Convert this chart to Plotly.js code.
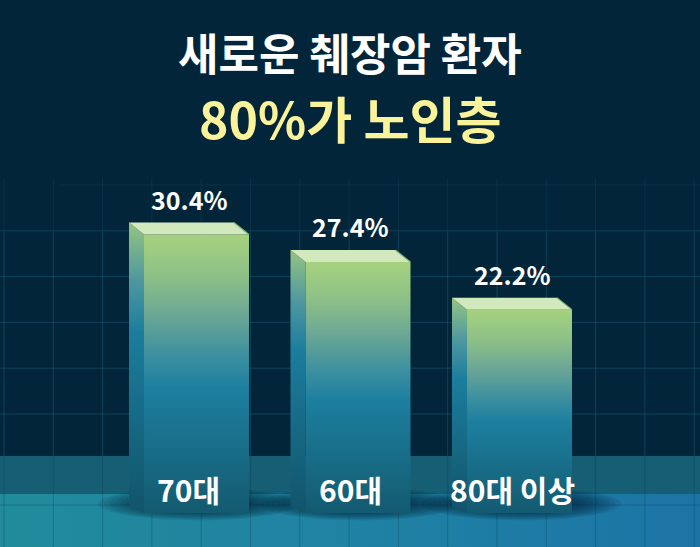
<!DOCTYPE html>
<html>
<head>
<meta charset="utf-8">
<script src="https://cdn.plot.ly/plotly-3.0.1.min.js"></script>
<style>
html,body{margin:0;padding:0;background:#032539;}
#chart{width:700px;height:547px;}
</style>
</head>
<body>
<div id="chart"></div>
<script>
// ---- data ----
const categories = ['70대', '60대', '80대 이상'];
const values = [30.4, 27.4, 22.2];
const valueLabels = ['30.4%', '27.4%', '22.2%'];
const titleLine1 = '새로운 췌장암 환자';
const titleLine2 = '80%가 노인층';

// ---- style constants ----
const W = 700, H = 547;
const FONT = "'Noto Sans CJK KR', 'Noto Sans', sans-serif";
const BAR_W = 0.65;   // front face width (category units)
const DX = 0.093;     // depth offset, x
const DY = 1.31;      // depth offset at top, value units
const DYB = 0.655;    // depth offset at bottom, value units
const X_RANGE = [-1.2167, 3.1176];
const Y_RANGE = [-3.712, 56.004];

const frontScale = [[0,'#135a70'],[0.2,'#186b85'],[0.45,'#1d7f9f'],[0.56,'#3a8fa0'],[0.7,'#68a596'],[0.85,'#8dc087'],[1,'#a6d27f']];
const sideScale  = [[0,'#11546a'],[0.3,'#166883'],[0.62,'#1b7d9e'],[0.8,'#4f97a0'],[1,'#93c580']];
const topColor = '#d1e9bc';

const traces = [];

// ---- decorative background on pixel axes (x / y) ----
traces.push({
  type:'scatter', mode:'lines', xaxis:'x', yaxis:'y', hoverinfo:'skip',
  x:[0,W,W,0,0], y:[494,494,H,H,494], fill:'toself', line:{width:0},
  fillgradient:{type:'horizontal', colorscale:[[0,'#218b9b'],[0.5,'#1f82a3'],[1,'#1c74a6']]}
});
traces.push({
  type:'scatter', mode:'lines', xaxis:'x', yaxis:'y', hoverinfo:'skip',
  x:[0,W,W,0,0], y:[456,456,494,494,456], fill:'toself', line:{width:0},
  fillcolor:'#165e73'
});
const gx = [], gy = [], gxf = [], gyf = [];
for (let k = 0; k < 15; k++) {
  const xx = 4 + 49.3 * k;
  gx.push(xx, xx, null); gy.push(232, 456, null);
  gxf.push(xx, xx, null); gyf.push(178, 232, null);
}
for (let k = 1; k < 6; k++) {
  const yy = 185 + 45.8 * k;
  gx.push(0, W, null); gy.push(yy, yy, null);
}
gxf.push(60, W, null); gyf.push(185, 185, null);
traces.push({type:'scatter', mode:'lines', xaxis:'x', yaxis:'y', hoverinfo:'skip',
  x:gx, y:gy, line:{color:'rgba(40,110,140,0.38)', width:1}});
traces.push({type:'scatter', mode:'lines', xaxis:'x', yaxis:'y', hoverinfo:'skip',
  x:gxf, y:gyf, line:{color:'rgba(40,110,140,0.18)', width:1}});
const fx = [], fy = [];
for (let k = 0; k < 15; k++) {
  const xx = 4 + 49.3 * k;
  fx.push(xx, xx, null); fy.push(456, H, null);
}
fx.push(0, W, null); fy.push(505, 505, null);
traces.push({type:'scatter', mode:'lines', xaxis:'x', yaxis:'y', hoverinfo:'skip',
  x:fx, y:fy, line:{color:'rgba(8,55,75,0.28)', width:1}});

// ---- bars on data axes (x2 / y2) ----
values.forEach((v, i) => {
  // soft shadow
  for (let k = 0; k < 10; k++) {
    const rx = 0.62 - k * 0.035, ry = 1.8 - k * 0.12;
    const ex = [], ey = [];
    for (let t = 0; t <= 60; t++) {
      const a = t / 60 * 2 * Math.PI;
      ex.push(i + 0.01 + rx * Math.cos(a));
      ey.push(1.0 + ry * Math.sin(a));
    }
    traces.push({type:'scatter', mode:'lines', xaxis:'x2', yaxis:'y2', hoverinfo:'skip',
      x:ex, y:ey, fill:'toself', line:{width:0}, fillcolor:'rgba(4,34,50,0.1)'});
  }
  const xl = i - BAR_W / 2, xr = i + BAR_W / 2;
  traces.push({type:'scatter', mode:'lines', xaxis:'x2', yaxis:'y2', hoverinfo:'skip',
    x:[xl - DX, xl, xl, xl - DX, xl - DX], y:[DYB, 0, v, v + DY, DYB],
    fill:'toself', line:{width:0}, fillgradient:{type:'vertical', colorscale:sideScale}});
  traces.push({type:'scatter', mode:'lines', xaxis:'x2', yaxis:'y2', hoverinfo:'skip',
    x:[xl, xr, xr, xl, xl], y:[0, 0, v, v, 0],
    fill:'toself', line:{width:0}, fillgradient:{type:'vertical', colorscale:frontScale}});
  traces.push({type:'scatter', mode:'lines', xaxis:'x2', yaxis:'y2', hoverinfo:'skip',
    x:[xl, xr, xr - DX, xl - DX, xl], y:[v, v, v + DY, v + DY, v],
    fill:'toself', line:{width:0}, fillcolor:topColor});
  traces.push({type:'scatter', mode:'lines', xaxis:'x2', yaxis:'y2', hoverinfo:'skip',
    x:[xr - DX, xr], y:[v + DY, v], line:{color:'#7ea972', width:1.2}});
});

const annotations = [];
values.forEach((v, i) => {
  annotations.push({xref:'x2', yref:'y2', x:i - DX / 2, y:v + DY, yanchor:'bottom', yshift:4,
    text:valueLabels[i], showarrow:false,
    font:{family:FONT, size:25, color:'#ffffff', weight:'bold'}});
  annotations.push({xref:'x2', yref:'y2', x:i - DX / 2, y:0, yanchor:'middle', yshift:24,
    text:categories[i], showarrow:false,
    font:{family:FONT, size:30, color:'#ffffff', weight:'bold'}});
});
annotations.push({xref:'paper', yref:'paper', x:0.5, y:1 - 52 / H, xanchor:'center', yanchor:'middle',
  text:titleLine1, showarrow:false, font:{family:FONT, size:44, color:'#ffffff', weight:'bold'}});
annotations.push({xref:'paper', yref:'paper', x:0.5, y:1 - 117 / H, xanchor:'center', yanchor:'middle',
  text:titleLine2, showarrow:false, font:{family:FONT, size:50, color:'#fbf39a', weight:'bold'}});

const layout = {
  width:W, height:H,
  margin:{l:0, r:0, t:0, b:0, pad:0},
  paper_bgcolor:'#032539', plot_bgcolor:'rgba(0,0,0,0)',
  showlegend:false,
  xaxis:{range:[0, W], visible:false, fixedrange:true},
  yaxis:{range:[H, 0], visible:false, fixedrange:true},
  xaxis2:{overlaying:'x', range:X_RANGE, visible:false, fixedrange:true},
  yaxis2:{overlaying:'y', range:Y_RANGE, visible:false, fixedrange:true},
  annotations:annotations
};

Plotly.newPlot('chart', traces, layout, {staticPlot:true, displayModeBar:false});
</script>
</body>
</html>
